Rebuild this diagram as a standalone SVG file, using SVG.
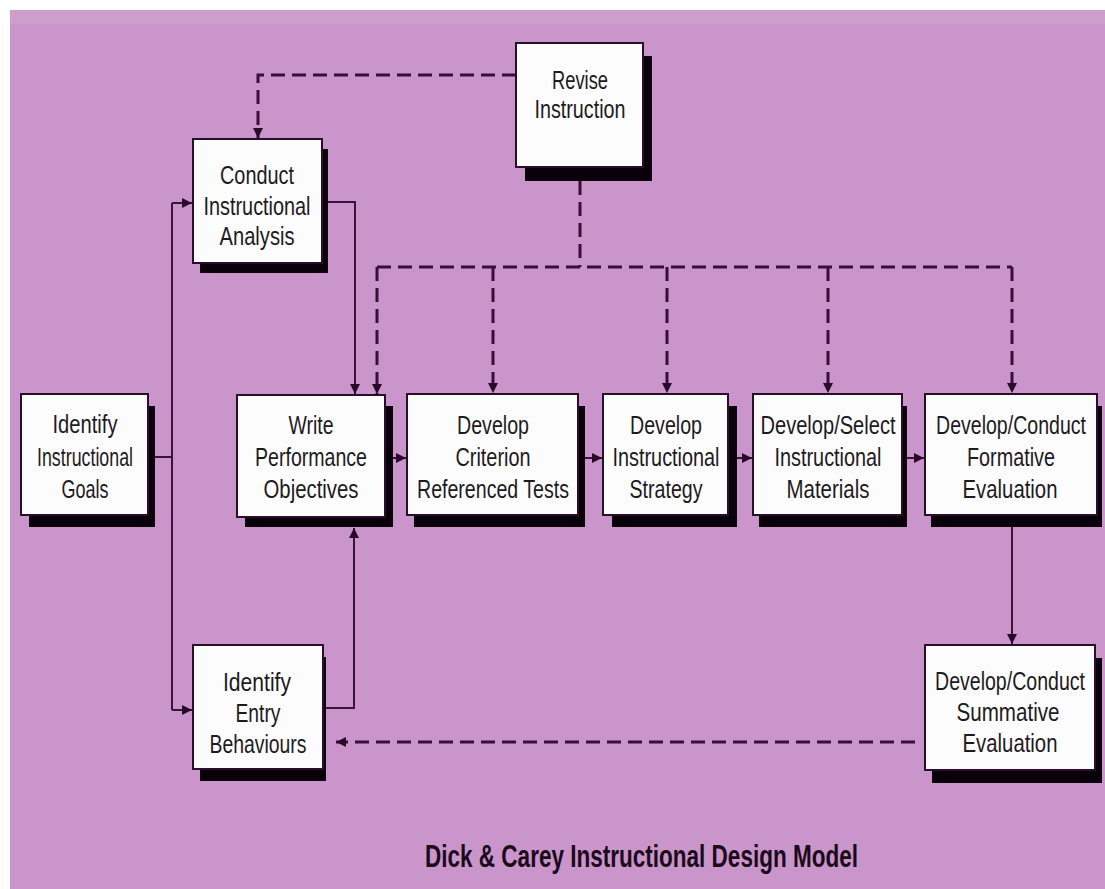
<svg xmlns="http://www.w3.org/2000/svg" width="1105" height="889" viewBox="0 0 1105 889">
<style>
.bg{fill:#ca95ca}
.box{fill:#fdfcfd;stroke:#2a0f2a;stroke-width:2}
.sh{fill:#0a000a}
.t{font-family:"Liberation Sans",Arial,sans-serif;font-size:26px;fill:#1e1a1e;text-anchor:middle}
.s{fill:none;stroke:#3a123a;stroke-width:2}
.d{fill:none;stroke:#3a0e3a;stroke-width:3;stroke-dasharray:14 7}
.title{font-family:"Liberation Sans",Arial,sans-serif;font-size:31px;font-weight:bold;fill:#1a0a1a}
</style>
<defs>
<marker id="ah" viewBox="0 0 10 10" refX="10" refY="5" markerWidth="11" markerHeight="10" markerUnits="userSpaceOnUse" orient="auto">
<path d="M0,0 L10,5 L0,10 z" fill="#2a0a2a"/>
</marker>
</defs>
<rect x="0" y="0" width="1105" height="889" fill="#ffffff"/>
<rect class="bg" x="10" y="10" width="1095" height="879"/>
<rect x="10" y="10" width="1095" height="14" fill="#cc9ecc"/>

<g id="connectors">
<path class="s" d="M148,457 H172"/>
<path class="s" d="M172,203 V710"/>
<path class="s" d="M172,203 H192" marker-end="url(#ah)"/>
<path class="s" d="M172,710 H192" marker-end="url(#ah)"/>
<path class="s" d="M322,202 H355 V394" marker-end="url(#ah)"/>
<path class="s" d="M323,708 H354 V528" marker-end="url(#ah)"/>
<path class="s" d="M393,458 H406" marker-end="url(#ah)"/>
<path class="s" d="M585,458 H602" marker-end="url(#ah)"/>
<path class="s" d="M737,458 H752" marker-end="url(#ah)"/>
<path class="s" d="M907,458 H924" marker-end="url(#ah)"/>
<path class="s" d="M1012,527 V644" marker-end="url(#ah)"/>
<path class="d" d="M516,75 H258 V138" marker-end="url(#ah)"/>
<path class="d" d="M580,181 V267"/>
<path class="d" d="M377,267 H1012"/>
<path class="d" d="M377,267 V394" marker-end="url(#ah)"/>
<path class="d" d="M493,267 V393" marker-end="url(#ah)"/>
<path class="d" d="M667,267 V393" marker-end="url(#ah)"/>
<path class="d" d="M828,267 V393" marker-end="url(#ah)"/>
<path class="d" d="M1012,267 V393" marker-end="url(#ah)"/>
<path class="d" d="M915,742 H336" marker-end="url(#ah)"/>
</g>

<g id="revise">
<rect class="sh" x="525" y="56" width="127" height="125"/>
<rect class="box" x="516" y="43" width="127" height="124"/>
<text class="t"><tspan x="580" y="89" textLength="56" lengthAdjust="spacingAndGlyphs">Revise</tspan><tspan x="580" y="118" textLength="91" lengthAdjust="spacingAndGlyphs">Instruction</tspan></text>
</g>

<g id="conduct">
<rect class="sh" x="200" y="149" width="128" height="124"/>
<rect class="box" x="193" y="139" width="129" height="124"/>
<text class="t"><tspan x="257" y="184" textLength="74" lengthAdjust="spacingAndGlyphs">Conduct</tspan><tspan x="257" y="215" textLength="107" lengthAdjust="spacingAndGlyphs">Instructional</tspan><tspan x="257" y="245" textLength="75" lengthAdjust="spacingAndGlyphs">Analysis</tspan></text>
</g>

<g id="goals">
<rect class="sh" x="29" y="406" width="126" height="121"/>
<rect class="box" x="21" y="394" width="127" height="121"/>
<text class="t"><tspan x="85" y="433" textLength="65" lengthAdjust="spacingAndGlyphs">Identify</tspan><tspan x="85" y="466" textLength="96" lengthAdjust="spacingAndGlyphs">Instructional</tspan><tspan x="85" y="498" textLength="47" lengthAdjust="spacingAndGlyphs">Goals</tspan></text>
</g>

<g id="write">
<rect class="sh" x="245" y="406" width="148" height="121"/>
<rect class="box" x="237" y="395" width="148" height="122"/>
<text class="t"><tspan x="311" y="434" textLength="45" lengthAdjust="spacingAndGlyphs">Write</tspan><tspan x="311" y="466" textLength="112" lengthAdjust="spacingAndGlyphs">Performance</tspan><tspan x="311" y="498" textLength="95" lengthAdjust="spacingAndGlyphs">Objectives</tspan></text>
</g>

<g id="criterion">
<rect class="sh" x="414" y="406" width="171" height="121"/>
<rect class="box" x="407" y="394" width="171" height="121"/>
<text class="t"><tspan x="493" y="434" textLength="72" lengthAdjust="spacingAndGlyphs">Develop</tspan><tspan x="493" y="466" textLength="75" lengthAdjust="spacingAndGlyphs">Criterion</tspan><tspan x="493" y="498" textLength="152" lengthAdjust="spacingAndGlyphs">Referenced Tests</tspan></text>
</g>

<g id="strategy">
<rect class="sh" x="612" y="406" width="125" height="121"/>
<rect class="box" x="603" y="394" width="125" height="121"/>
<text class="t"><tspan x="666" y="434" textLength="72" lengthAdjust="spacingAndGlyphs">Develop</tspan><tspan x="666" y="466" textLength="107" lengthAdjust="spacingAndGlyphs">Instructional</tspan><tspan x="666" y="498" textLength="73" lengthAdjust="spacingAndGlyphs">Strategy</tspan></text>
</g>

<g id="select">
<rect class="sh" x="759" y="406" width="148" height="121"/>
<rect class="box" x="753" y="394" width="149" height="121"/>
<text class="t"><tspan x="828" y="434" textLength="135" lengthAdjust="spacingAndGlyphs">Develop/Select</tspan><tspan x="828" y="466" textLength="107" lengthAdjust="spacingAndGlyphs">Instructional</tspan><tspan x="828" y="498" textLength="83" lengthAdjust="spacingAndGlyphs">Materials</tspan></text>
</g>

<g id="formative">
<rect class="sh" x="931" y="406" width="171" height="121"/>
<rect class="box" x="925" y="394" width="172" height="121"/>
<text class="t" transform="translate(1011,434) scale(0.752,1)" x="0" y="0">Develop/Conduct</text>
<text class="t"><tspan x="1011" y="466" textLength="88" lengthAdjust="spacingAndGlyphs">Formative</tspan><tspan x="1010" y="498" textLength="95" lengthAdjust="spacingAndGlyphs">Evaluation</tspan></text>
</g>

<g id="entry">
<rect class="sh" x="200" y="657" width="126" height="124"/>
<rect class="box" x="193" y="645" width="130" height="124"/>
<text class="t"><tspan x="257" y="691" textLength="68" lengthAdjust="spacingAndGlyphs">Identify</tspan><tspan x="258" y="722" textLength="45" lengthAdjust="spacingAndGlyphs">Entry</tspan><tspan x="258" y="753" textLength="97" lengthAdjust="spacingAndGlyphs">Behaviours</tspan></text>
</g>

<g id="summative">
<rect class="sh" x="932" y="658" width="170" height="125"/>
<rect class="box" x="925" y="645" width="170" height="125"/>
<text class="t" transform="translate(1010,690) scale(0.752,1)" x="0" y="0">Develop/Conduct</text>
<text class="t"><tspan x="1008" y="721" textLength="103" lengthAdjust="spacingAndGlyphs">Summative</tspan><tspan x="1010" y="752" textLength="95" lengthAdjust="spacingAndGlyphs">Evaluation</tspan></text>
</g>

<text class="title" x="425" y="867" textLength="433" lengthAdjust="spacingAndGlyphs">Dick &amp; Carey Instructional Design Model</text>
</svg>
